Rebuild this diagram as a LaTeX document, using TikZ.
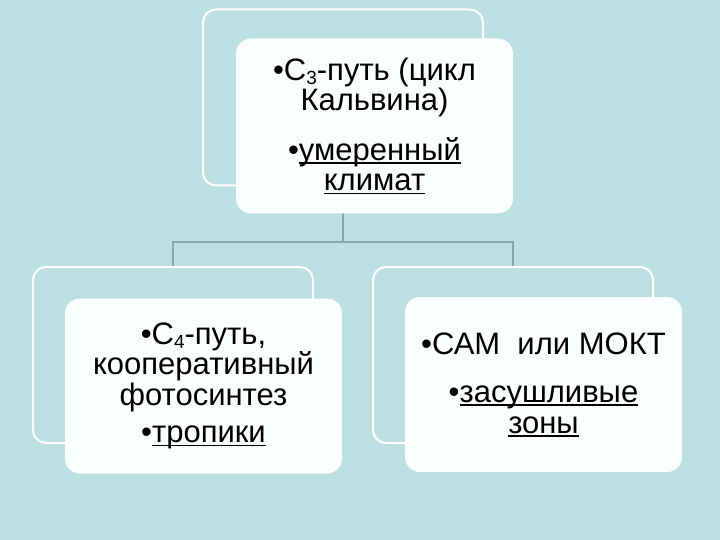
\documentclass[tikz,border=0pt]{standalone}
\usepackage{fontspec}
\setmainfont{Liberation Sans}
\definecolor{bgblue}{HTML}{BCDFE2}
\definecolor{conn}{HTML}{87A6AB}
\definecolor{boxfill}{HTML}{FBFEFE}
\newcommand{\mysub}[1]{\raisebox{-0.28ex}{\fontsize{19pt}{19pt}\selectfont #1}}
\newcommand{\myul}[1]{\setbox0=\hbox{#1}\rlap{\rule[-3.5pt]{\wd0}{1.6pt}}\box0}
\begin{document}
\begin{tikzpicture}[x=1pt,y=-1pt,
  backframe/.style={draw=white,line width=2pt,rounded corners=13pt,
    minimum width=280pt,minimum height=176pt,inner sep=0pt},
  frontbox/.style={fill=boxfill,rounded corners=15pt,
    minimum width=277pt,minimum height=175pt,inner sep=0pt,
    align=center,font=\fontsize{31pt}{30.5pt}\selectfont},
  connector/.style={draw=conn,line width=1.8pt}]
\fill[bgblue] (0,0) rectangle (720,540);
\useasboundingbox (0,0) rectangle (720,540);
% back frames
\node[backframe] (tback) at (343,97.5) {};
\node[backframe] (lback) at (173,355) {};
\node[backframe] (rback) at (513,355) {};
% connectors
\coordinate (j) at (343,242);
\draw[connector] (tback.south) -- (j);
\draw[connector] (lback.north) |- (j) -| (rback.north);
% front boxes
\node[frontbox] (tfront) at (374.5,126)
  {•С\mysub{3}-путь (цикл\\Кальвина)\\[19pt]•\myul{умеренный}\\\myul{климат}};
\node[frontbox] (lfront) at (203.5,386)
  {•С\mysub{4}-путь,\\кооперативный\\фотосинтез\\[7pt]•\myul{тропики}};
\node[frontbox] (rfront) at (543.5,384.5)
  {•САМ\ \ или МОКТ\\[18pt]•\myul{засушливые}\\\myul{зоны}};
\end{tikzpicture}
\end{document}
